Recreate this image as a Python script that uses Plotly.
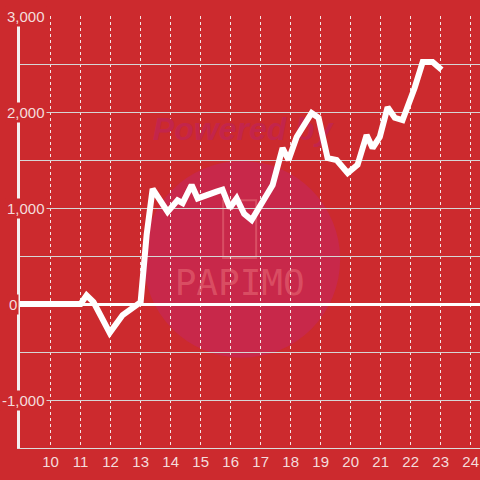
import plotly.graph_objects as go

# Series: hour of day vs cumulative value
hours = [8.98, 11.0, 11.2, 11.43, 11.97, 12.4, 13.0, 13.2, 13.4, 13.9, 14.23, 14.4, 14.7,
         14.9, 15.53, 15.73, 15.97, 16.2, 16.45, 16.7, 17.4, 17.73, 17.93, 18.2, 18.7,
         18.93, 19.23, 19.53, 19.9, 20.23, 20.53, 20.73, 20.97, 21.23, 21.47, 21.73,
         22.13, 22.4, 22.73, 23.03]
values = [0, 0, 90, 20, -300, -115, 20, 720, 1200, 960, 1080, 1050, 1240,
          1100, 1170, 1190, 1000, 1100, 940, 875, 1240, 1625, 1500, 1740, 1990,
          1940, 1520, 1500, 1365, 1450, 1760, 1625, 1740, 2050, 1940, 1915,
          2250, 2520, 2520, 2440]

x_ticks = list(range(10, 25))
y_label_vals = [3000, 2000, 1000, 0, -1000]
y_label_text = ["3,000", "2,000", "1,000", "0", "-1,000"]

BG = "#cc2a2e"
TICK_COLOR = "#f4dcdc"
FONT = "Liberation Sans, Arial, sans-serif"

fig = go.Figure()

# watermark text (kept below the line)
fig.add_trace(go.Scatter(
    x=[16.4], y=[1790], mode="text", text=["Powered by"],
    textfont=dict(size=32, color="#c3254b", family=FONT, weight="bold", style="italic"),
    hoverinfo="skip", showlegend=False, cliponaxis=False,
))
fig.add_trace(go.Scatter(
    x=[16.3], y=[190], mode="text", text=["PAPIMO"],
    textfont=dict(size=36, color="rgba(232,110,120,0.55)", family="DejaVu Sans Mono, monospace"),
    hoverinfo="skip", showlegend=False,
))

fig.add_trace(go.Scatter(
    x=hours, y=values, mode="lines",
    line=dict(color="#ffffff", width=6),
    hoverinfo="skip", showlegend=False,
))

# watermark circle + icon
fig.add_shape(type="circle", xref="x", yref="y", x0=13.1, x1=19.65, y0=-560, y1=1490,
              fillcolor="#c8284a", line_width=0, layer="below")
fig.add_shape(type="rect", xref="x", yref="y", x0=15.75, x1=16.85, y0=480, y1=1080,
              line=dict(color="rgba(230,110,120,0.55)", width=2), layer="below")

for v, t in zip(y_label_vals, y_label_text):
    xp = -0.002 if v == 0 else 0.058
    fig.add_annotation(
        x=xp, xref="paper", y=v, yref="y", text=t, showarrow=False,
        xanchor="right", yanchor="middle", bgcolor=BG, borderpad=1,
        font=dict(size=15, color=TICK_COLOR, family=FONT),
    )

fig.update_xaxes(
    range=[8.98, 24.31], tickmode="array", tickvals=x_ticks,
    ticktext=[str(h) for h in x_ticks],
    showgrid=True, gridcolor="#f4e6e6", gridwidth=1, griddash="dot",
    showline=True, linecolor="#dcdcdc", linewidth=1, automargin=False,
    zeroline=False, ticks="", tickfont=dict(size=15, color=TICK_COLOR, family=FONT),
    fixedrange=True,
)
fig.update_yaxes(
    range=[-1500, 3000], dtick=500, tick0=0, showticklabels=False,
    showgrid=True, gridcolor="#d6d6d6", gridwidth=1, automargin=False,
    showline=True, linecolor="#f4f0f0", linewidth=3,
    zeroline=True, zerolinecolor="#ffffff", zerolinewidth=3,
    fixedrange=True,
)
fig.update_layout(
    width=480, height=480,
    margin=dict(l=20, r=0, t=16, b=32),
    paper_bgcolor=BG, plot_bgcolor=BG,
    font=dict(family=FONT, color=TICK_COLOR),
    showlegend=False,
)

# drop the default 8px body margin so the figure sits at the window origin
fig.write_html("out.html", config={"displayModeBar": False},
               post_script="document.body.style.margin='0';")
